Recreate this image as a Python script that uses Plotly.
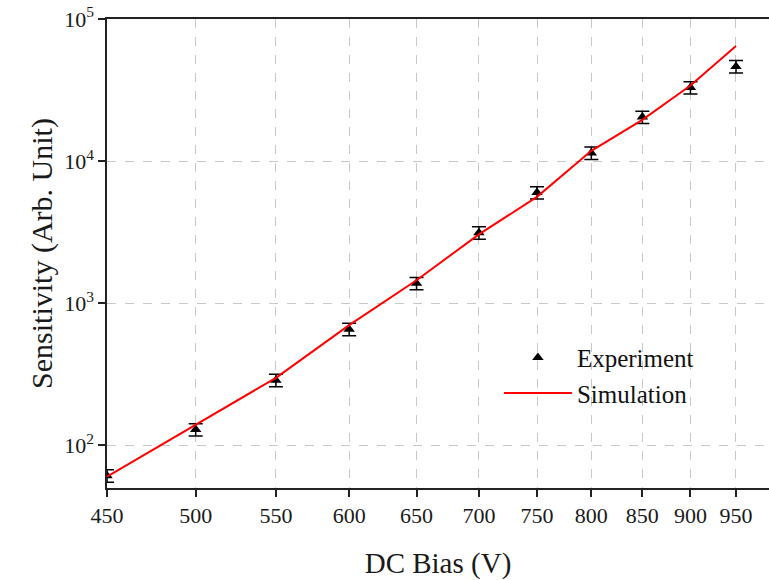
import math
import plotly.graph_objects as go

# Data
bias_exp = [450, 500, 550, 600, 650, 700, 750, 800, 850, 900, 950]
sens_exp = [61, 129, 287, 656, 1380, 3130, 6000, 11400, 20400, 32900, 46400]
err_pct = 10

bias_sim = [450, 500, 550, 600, 650, 700, 750, 800, 850, 900, 950]
sens_sim = [60, 140, 298, 700, 1450, 3050, 5600, 11800, 19500, 34000, 64500]

x_ticks = [450, 500, 550, 600, 650, 700, 750, 800, 850, 900, 950]
y_ticks = [100, 1000, 10000, 100000]
y_ticktext = ["10<sup>2</sup>", "10<sup>3</sup>", "10<sup>4</sup>", "10<sup>5</sup>"]

FONT = "Liberation Serif, Times New Roman, serif"
TXT = "#1a1a1a"

fig = go.Figure()
fig.add_trace(go.Scatter(
    x=bias_exp, y=sens_exp, mode="markers", name="Experiment",
    marker=dict(symbol="triangle-up", size=10, color="black"),
    error_y=dict(type="percent", value=err_pct, color="black", thickness=1.5, width=7),
))
fig.add_trace(go.Scatter(
    x=bias_sim, y=sens_sim, mode="lines", name="Simulation",
    line=dict(color="#ff0000", width=2),
))

fig.update_layout(
    width=769, height=580,
    margin=dict(l=107, r=0, t=19, b=92),
    paper_bgcolor="white", plot_bgcolor="white",
    font=dict(family=FONT, size=22, color=TXT),
    showlegend=True,
    legend=dict(x=0.592, y=0.327, xanchor="left", yanchor="top",
                bgcolor="rgba(0,0,0,0)", font=dict(size=25, family=FONT, color="#111"),
                tracegroupgap=0, itemwidth=68),
)
fig.update_xaxes(
    type="log", range=[math.log10(450), math.log10(988)],
    tickvals=x_ticks, ticktext=[str(v) for v in x_ticks],
    showline=True, linecolor="#222", linewidth=1.5, mirror=True,
    ticks="outside", ticklen=7, tickwidth=1.5, tickcolor="#222",
    showgrid=True, gridcolor="#c8c8c8", griddash="dash", gridwidth=1,
    zeroline=False,
    tickfont=dict(size=22, family=FONT, color=TXT),
    title=dict(text="DC Bias (V)", font=dict(size=29, family=FONT, color=TXT), standoff=28),
)
fig.update_yaxes(
    type="log", range=[math.log10(50), 5],
    tickvals=y_ticks, ticktext=y_ticktext,
    showline=True, linecolor="#222", linewidth=1.5, mirror=False,
    ticks="outside", ticklen=7, tickwidth=1.5, tickcolor="#222",
    showgrid=True, gridcolor="#c8c8c8", griddash="dash", gridwidth=1,
    zeroline=False,
    tickfont=dict(size=22, family=FONT, color=TXT),
    title=dict(text="Sensitivity (Arb. Unit)", font=dict(size=30, family=FONT, color=TXT), standoff=3),
)

fig.write_html("out.html")
